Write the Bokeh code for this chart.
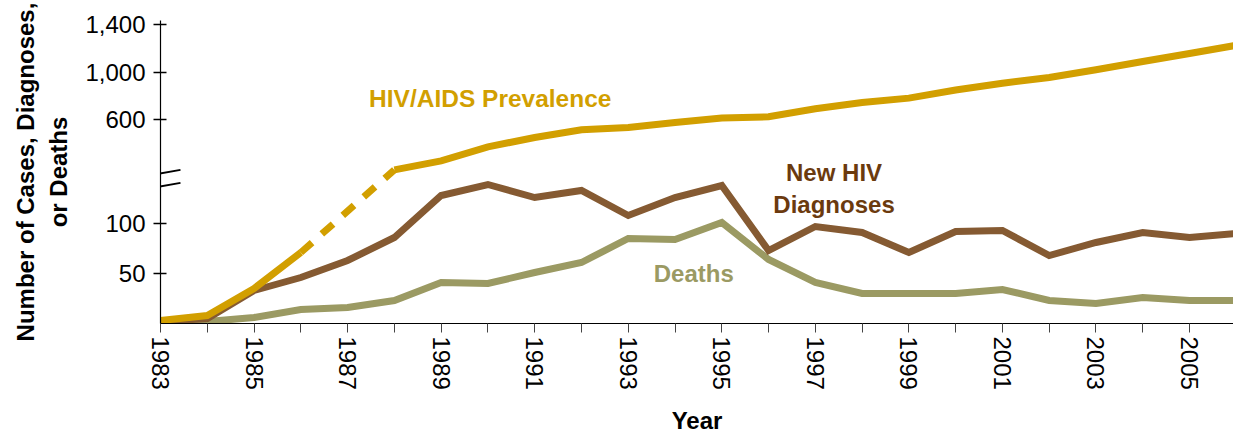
from bokeh.plotting import figure
from bokeh.models import Range1d, FixedTicker
from bokeh.core.properties import value
from bokeh.embed import file_html
from bokeh.resources import INLINE

# ---------------- data ----------------
years = list(range(1983, 2007))
new_diagnoses = [2, 5, 33, 46, 63, 86, 128, 139, 126, 133, 108, 126, 138,
                 73, 97, 91, 71, 92, 93, 68, 81, 91, 86, 90]
deaths = [2, 2, 6, 14, 16, 23, 41, 40, 51, 61, 85, 84, 101,
          64, 41, 30, 30, 30, 34, 23, 20, 26, 23, 23]
# prevalence: early years on the lower scale, later years on the upper (broken) scale
prev_early_years = [1983, 1984, 1985, 1986]
prev_early = [3, 8, 35, 71]
prev_late_years = list(range(1988, 2007))
prev_late = [176, 252, 370, 448, 513, 533, 575, 612, 623, 690, 743, 780,
             848, 905, 954, 1019, 1089, 1156, 1225]

lower_ticks = [50, 100]
upper_ticks = [600, 1000, 1400]
upper_tick_labels = ["600", "1,000", "1,400"]
x_label_years = list(range(1983, 2007, 2))

# ---------------- broken-axis mapping ----------------
UPPER_ORIGIN = 600      # upper-scale value placed at display position UPPER_BASE
UPPER_BASE = 204.0
UPPER_FACTOR = 47.5 / 400.0


def upper_to_disp(v):
    return UPPER_BASE + (v - UPPER_ORIGIN) * UPPER_FACTOR


prev_late_disp = [upper_to_disp(v) for v in prev_late]
upper_tick_disp = [upper_to_disp(v) for v in upper_ticks]

GOLD = "#D29F00"
BROWN = "#855A32"
BROWN_TEXT = "#6B3A0E"
OLIVE = "#9B9A63"
FONT = "Liberation Sans"

p = figure(frame_width=1073, frame_height=303, output_backend="svg",
           toolbar_location=None,
           x_range=Range1d(1983, 2005.94), y_range=Range1d(0, 303),
           min_border_left=160, min_border_right=0, min_border_top=20,
           min_border_bottom=110)
p.outline_line_color = None
p.xgrid.visible = False
p.ygrid.visible = False

# series
p.line(years, deaths, line_color=OLIVE, line_width=7, line_join="miter")
p.line(years, new_diagnoses, line_color=BROWN, line_width=7, line_join="miter")
p.line(prev_early_years, prev_early, line_color=GOLD, line_width=7, line_join="miter")
p.line(prev_late_years, prev_late_disp, line_color=GOLD, line_width=7, line_join="miter")
p.line([prev_early_years[-1], prev_late_years[0]], [prev_early[-1], prev_late_disp[0]],
       line_color=GOLD, line_width=7, line_dash="15 13")

# axis break marks
BREAK_Y = 144.5
dx0, dx1 = 7.5 / 46.77, 20 / 46.77
p.segment(x0=[1983 - dx0, 1983 - dx0], y0=[BREAK_Y + 4.2, BREAK_Y - 8.8],
          x1=[1983 + dx1, 1983 + dx1], y1=[BREAK_Y + 9.2, BREAK_Y - 3.8],
          line_color="black", line_width=1.8)

# in-plot labels
p.text(x=[1990.05], y=[225.5], text=["HIV/AIDS Prevalence"], text_color=GOLD,
       text_font=value(FONT), text_font_style="bold", text_font_size="24.5px",
       text_align="center", text_baseline="alphabetic")
p.text(x=[1997.4, 1997.4], y=[151.5, 119.2], text=["New HIV", "Diagnoses"],
       text_color=BROWN_TEXT, text_font=value(FONT), text_font_style="bold",
       text_font_size="24px", text_align="center", text_baseline="alphabetic")
p.text(x=[1994.4], y=[49.8], text=["Deaths"], text_color=OLIVE,
       text_font=value(FONT), text_font_style="bold", text_font_size="24px",
       text_align="center", text_baseline="alphabetic")

# x axis
xa = p.xaxis[0]
xa.ticker = FixedTicker(ticks=years)
xa.major_label_overrides = {y: (str(y) if y in x_label_years else "") for y in years}
xa.major_label_orientation = "vertical"
xa.major_label_text_font = FONT
xa.major_label_text_font_size = "24px"
xa.major_label_text_color = "black"
xa.major_label_standoff = 4
xa.major_tick_in = 0
xa.major_tick_out = 9
xa.major_tick_line_color = "#444444"
xa.minor_tick_line_color = None
xa.axis_line_color = "black"
xa.axis_line_width = 1.2
xa.axis_label = "Year"
xa.axis_label_text_font = FONT
xa.axis_label_text_font_style = "bold"
xa.axis_label_text_font_size = "24px"
xa.axis_label_text_color = "black"
xa.axis_label_standoff = 14

# y axis
ya = p.yaxis[0]
ya.ticker = FixedTicker(ticks=lower_ticks + upper_tick_disp)
overrides = {t: str(t) for t in lower_ticks}
overrides.update({d: lab for d, lab in zip(upper_tick_disp, upper_tick_labels)})
ya.major_label_overrides = overrides
ya.major_label_text_font = FONT
ya.major_label_text_font_size = "24px"
ya.major_label_text_color = "black"
ya.major_label_standoff = 8
ya.major_tick_in = 6
ya.major_tick_out = 7
ya.major_tick_line_color = "black"
ya.major_tick_line_width = 1.5
ya.minor_tick_line_color = None
ya.axis_line_color = "black"
ya.axis_line_width = 1.2
ya.axis_label = "Number of Cases, Diagnoses,\nor Deaths"
ya.axis_label_text_font = FONT
ya.axis_label_text_font_style = "bold"
ya.axis_label_text_font_size = "24px"
ya.axis_label_text_color = "black"
ya.axis_label_text_line_height = 1.25
ya.axis_label_standoff = 10

open("out.html", "w").write(file_html(p, INLINE))
